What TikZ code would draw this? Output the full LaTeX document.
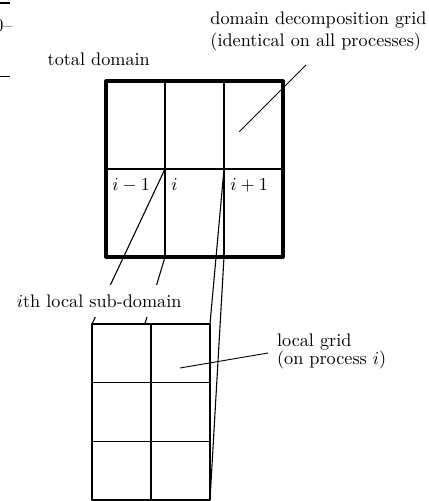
\documentclass[tikz,border=0pt]{standalone}
\begin{document}
\begin{tikzpicture}[x=0.5495pt,y=-0.5495pt,
  outerbox/.style={line width=1.7pt, line join=round},
  innerline/.style={line width=1pt},
  lowbox/.style={line width=1.2pt, line join=round},
  lowline/.style={line width=0.6pt},
  conn/.style={line width=0.6pt},
  pointer/.style={line width=0.5pt},
  celllabel/.style={anchor=base west, inner sep=3.33pt}]
\useasboundingbox (0,0) rectangle (428,501);

% fragments at the top-left edge
\draw[line width=1.1pt] (-5,3.3) -- (10,3.3);
\node[anchor=base east, inner sep=0pt] (frag) at (13,31.5) {0--};
\draw[line width=0.5pt] (-5,76.7) -- (10,76.7);

% upper grid
\draw[innerline] (165,81) -- (165,257) (224,81) -- (224,257) (106,169) -- (283,169);
\draw[outerbox] (106,81) rectangle (283,257);

\node[celllabel] (lm) at (106,190.7) {$i-1$};
\node[celllabel] (li) at (165,190.7) {$i$};
\node[celllabel] (lp) at (224,190.7) {$i+1$};

% corners of cell i and of the local grid
\coordinate (itl) at (165,169);
\coordinate (ibl) at (165,257);
\coordinate (itr) at (224,169);
\coordinate (ibr) at (224,257);
\coordinate (ltl) at (92,324);
\coordinate (lbl) at (92,500);
\coordinate (ltr) at (210,324);
\coordinate (lbr) at (210,500);

\draw[conn] (itl) -- (ltl);
\draw[conn] (ibl) -- (lbl);
\draw[conn] (itr) -- (ltr);
\draw[conn] (ibr) -- (lbr);

\node[fill=white, inner xsep=3.33pt, inner ysep=5.3pt, anchor=base] (sub) at (99.2,307.3) {$i$th local sub-domain};

% local grid
\fill[white] (ltl) rectangle (lbr);
\draw[lowline] (151,324) -- (151,500) (92,382.7) -- (210,382.7) (92,441.3) -- (210,441.3);
\draw[lowbox] (ltl) rectangle (lbr);

% labels
\node[anchor=base] (total) at (98.8,65.3) {total domain};
\node[anchor=north west, align=left, inner sep=3.33pt] (ddg) at (204,5.3) {domain decomposition grid\\(identical on all processes)};
\node[anchor=north west, align=left, inner sep=3.33pt] (lg) at (270.7,327.1) {local grid\\[-1.9pt](on process $i$)};

% pointers
\coordinate (p1a) at (306,65);
\coordinate (p1b) at (239.3,131.7);
\coordinate (p2a) at (268,353);
\coordinate (p2b) at (180,368);
\draw[pointer] (p1a) -- (p1b);
\draw[pointer] (p2a) -- (p2b);
\end{tikzpicture}
\end{document}
